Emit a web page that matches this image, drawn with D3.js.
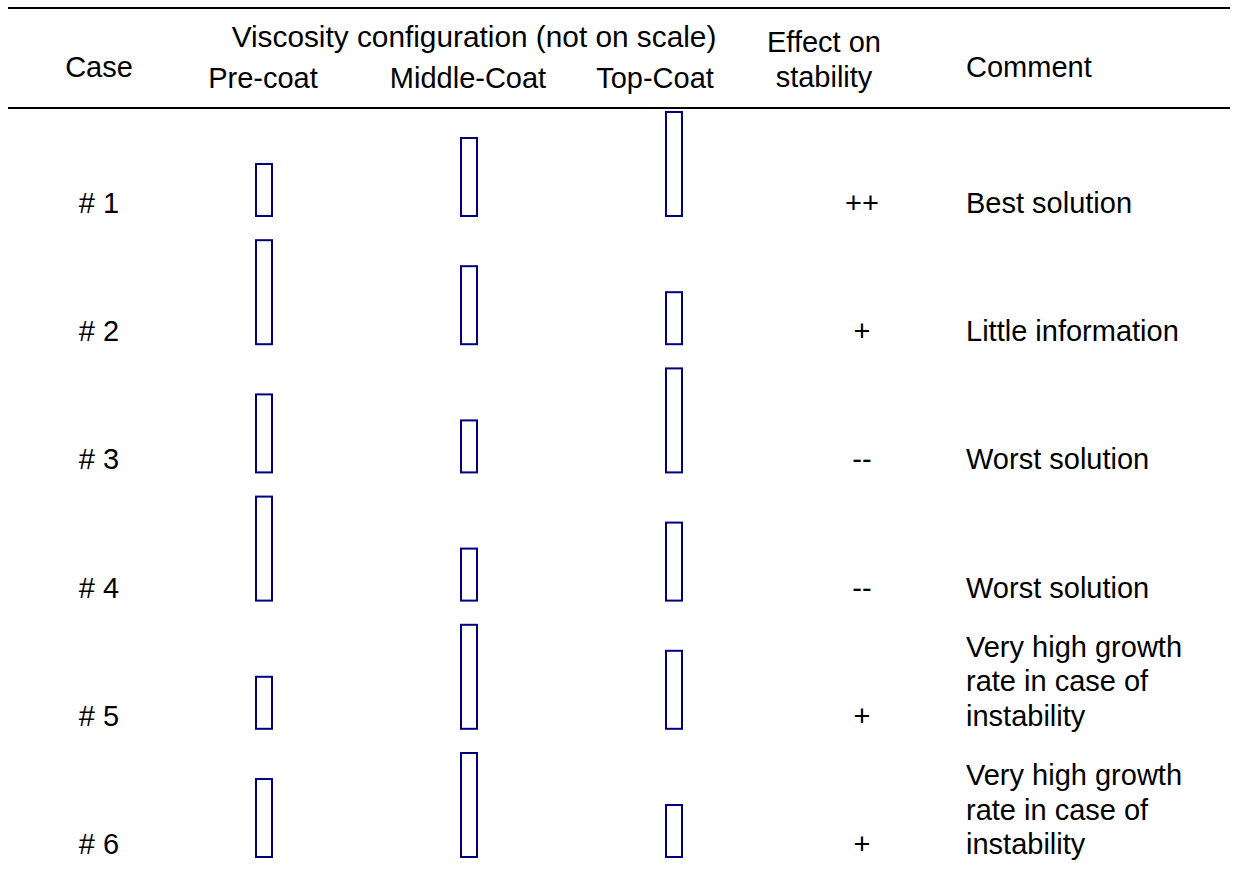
<!DOCTYPE html>
<html>
<head>
<meta charset="utf-8">
<script src="https://cdn.jsdelivr.net/npm/d3@7"></script>
<style>
  html, body { margin: 0; padding: 0; background: #fff; }
  svg { display: block; }
  text { font-family: "Liberation Sans", Arial, sans-serif; fill: #000; }
</style>
</head>
<body>
<svg id="chart" width="1237" height="875"></svg>
<script>
const cases = ["# 1", "# 2", "# 3", "# 4", "# 5", "# 6"];
const layers = ["Pre-coat", "Middle-Coat", "Top-Coat"];
// relative viscosity level (not on scale)
const preCoat = [2, 4, 3, 4, 2, 3];
const middleCoat = [3, 3, 2, 2, 4, 4];
const topCoat = [4, 2, 4, 3, 3, 2];
const effects = ["++", "+", "--", "--", "+", "+"];
const comments = [
  ["Best solution"],
  ["Little information"],
  ["Worst solution"],
  ["Worst solution"],
  ["Very high growth", "rate in case of", "instability"],
  ["Very high growth", "rate in case of", "instability"]
];
const headerTitle = "Viscosity configuration (not on scale)";
const headerCase = "Case";
const headerEffect = ["Effect on", "stability"];
const headerComment = "Comment";

const svg = d3.select("#chart");
const FS = 29;
const navy = "#000080";

const rowBase = d3.scalePoint().domain(cases).range([216, 857]);
const xLayer = d3.scalePoint().domain(layers).range([264, 674]);
const hScale = d3.scaleLinear().domain([0, 4]).range([0, 104]);
const barW = 16;

// rules
svg.append("line").attr("x1", 8).attr("x2", 1230).attr("y1", 8).attr("y2", 8)
  .attr("stroke", "#000").attr("stroke-width", 2);
svg.append("line").attr("x1", 8).attr("x2", 1230).attr("y1", 108).attr("y2", 108)
  .attr("stroke", "#000").attr("stroke-width", 2);

// header
const hdr = svg.append("g").attr("font-size", FS);
hdr.append("text").attr("x", 99).attr("y", 77).attr("text-anchor", "middle").text(headerCase);
hdr.append("text").attr("x", 474).attr("y", 47).attr("text-anchor", "middle")
  .attr("font-size", 29.8).text(headerTitle);
const headerLabelX = { "Pre-coat": 263, "Middle-Coat": 468, "Top-Coat": 655 };
hdr.selectAll("text.layer").data(layers).join("text")
  .attr("class", "layer")
  .attr("x", d => headerLabelX[d]).attr("y", 88).attr("text-anchor", "middle").text(d => d);
hdr.selectAll("text.eff").data(headerEffect).join("text")
  .attr("class", "eff")
  .attr("x", 824).attr("y", (d, i) => 52 + i * 35).attr("text-anchor", "middle").text(d => d);
hdr.append("text").attr("x", 966).attr("y", 77).text(headerComment);

// rows
const series = [preCoat, middleCoat, topCoat];
const rows = svg.selectAll("g.row").data(cases).join("g").attr("class", "row");

rows.append("text").attr("font-size", FS)
  .attr("x", 99).attr("y", d => rowBase(d) - 3).attr("text-anchor", "middle").text(d => d);

rows.each(function(c, i) {
  const g = d3.select(this);
  layers.forEach((l, j) => {
    const v = series[j][i];
    const h = hScale(v);
    g.append("rect")
      .attr("x", xLayer(l) - barW / 2)
      .attr("y", rowBase(c) - h)
      .attr("width", barW)
      .attr("height", h)
      .attr("fill", "#fff")
      .attr("stroke", navy)
      .attr("stroke-width", 2);
  });
  g.append("text").attr("font-size", FS)
    .attr("x", 862).attr("y", rowBase(c) - 3).attr("text-anchor", "middle").text(effects[i]);
  const lines = comments[i];
  g.selectAll("text.cm").data(lines).join("text").attr("class", "cm")
    .attr("font-size", FS)
    .attr("x", 966)
    .attr("y", (d, k) => rowBase(c) - 3 - (lines.length - 1 - k) * 34.5)
    .text(d => d);
});
</script>
</body>
</html>
